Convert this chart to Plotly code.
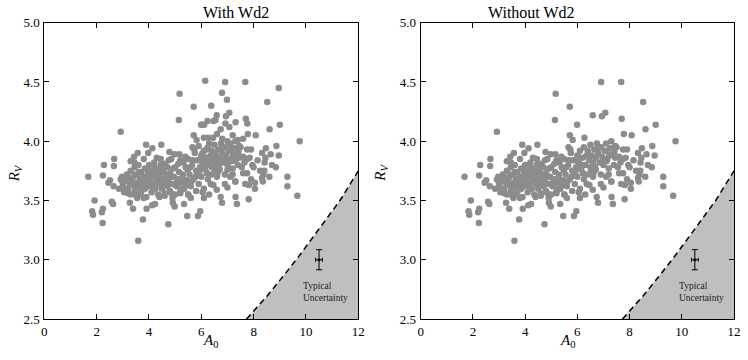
import plotly.graph_objects as go
from plotly.subplots import make_subplots

# points present in both panels
a0_common = [1.68, 1.92, 1.83, 1.86, 2.23, 2.20, 2.24, 2.28, 2.24, 2.58, 2.63, 2.45, 2.51, 2.65, 2.85,
             2.92, 2.97, 2.67, 2.66, 2.92, 3.59, 3.77, 3.91, 4.12, 4.23, 3.27, 3.39, 4.74, 4.91, 4.98,
             5.34, 5.46, 5.87, 5.96, 3.30, 3.43, 3.45, 3.57, 3.89, 4.13, 3.97, 4.47, 4.30, 4.45, 4.76,
             4.78, 4.98, 5.16, 5.39, 5.66, 5.73, 5.71, 5.82, 6.27, 5.17, 5.71, 5.14, 6.91, 7.68, 8.52,
             7.07, 6.59, 6.94, 5.99, 7.70, 8.61, 9.00, 7.78, 8.08, 9.76, 8.87, 9.29, 9.29, 9.67, 8.96,
             8.85, 8.65, 8.47, 8.32, 8.42, 8.38, 7.82, 7.68, 8.05, 7.81, 7.36, 7.31, 6.74, 6.79, 6.46,
             6.59, 8.05, 8.32, 8.41, 8.25, 8.00, 7.75, 7.60, 7.90, 7.75, 7.45, 7.50, 7.20, 7.60, 7.75,
             7.95, 8.60, 8.35, 7.90, 7.30, 7.00, 6.90, 6.30, 6.10, 6.05, 5.60, 5.50, 5.25, 5.20, 4.90,
             4.85, 4.60, 4.40, 3.80, 3.60, 3.45, 3.20, 3.10,
             3.00, 3.05, 3.10, 3.15, 3.20, 3.25, 3.30, 3.30, 3.35, 3.40, 3.45, 3.45, 3.50, 3.55, 3.55,
             3.60, 3.60, 3.65, 3.70, 3.70, 3.75, 3.80, 3.80, 3.85, 3.85, 3.90, 3.90, 3.95, 4.00, 4.00,
             4.05, 4.10, 4.10, 4.15, 4.20, 4.20, 4.25, 4.30, 4.30, 4.35, 4.40, 4.40, 4.45, 4.50, 4.50,
             4.55, 4.60, 4.60, 4.65, 4.70, 4.70, 4.75, 4.80, 4.80, 4.85, 4.90, 4.95, 5.00, 5.00, 5.05,
             5.10, 5.15, 5.20, 5.20, 5.25, 5.30, 5.35, 5.40, 5.45, 5.50, 5.50, 5.55, 5.60, 5.65, 5.70,
             5.75, 5.80, 5.80, 5.85, 5.90, 5.95, 6.00, 6.00, 6.05, 6.10, 6.10, 6.15, 6.20, 6.25, 6.25,
             6.30, 6.35, 6.40, 6.40, 6.45, 6.50, 6.50, 6.55, 6.60, 6.60, 6.65, 6.70, 6.70, 6.75, 6.80,
             6.85, 6.90, 6.90, 6.95, 7.00, 7.05, 7.10, 7.10, 7.15, 7.20, 7.25, 7.30, 7.30, 7.35, 7.40,
             7.45,
             3.12, 3.38, 3.52, 3.68, 3.74, 3.95, 4.02, 4.18, 4.28, 4.36, 4.52, 4.58, 4.68, 4.88, 5.08,
             5.28, 5.42, 5.58, 5.62, 5.78, 5.92, 6.18, 6.36, 6.52, 6.68, 6.82, 7.02, 7.22, 3.28, 3.62,
             3.98, 4.22, 4.62, 4.92, 5.32, 5.68, 6.02, 6.42, 2.98, 3.18, 3.48, 3.88, 4.08, 4.42, 4.72,
             5.12, 5.48, 5.88, 6.22, 6.62, 7.12, 7.42, 7.55, 7.65, 7.85, 8.15, 8.45, 8.70]
rv_common = [3.70, 3.50, 3.41, 3.38, 3.31, 3.40, 3.43, 3.80, 3.71, 3.49, 3.47, 3.65, 3.67, 3.62, 3.60,
             3.68, 3.70, 3.85, 3.79, 4.08, 3.16, 3.34, 3.43, 3.46, 3.47, 3.48, 3.43, 3.30, 3.48, 3.45,
             3.47, 3.37, 3.37, 3.41, 3.83, 3.87, 3.82, 3.90, 3.97, 3.94, 3.90, 3.97, 3.86, 3.85, 3.84,
             3.91, 3.89, 3.89, 3.87, 3.95, 3.93, 4.05, 4.01, 4.03, 4.40, 4.29, 4.18, 4.50, 4.50, 4.33,
             4.24, 4.22, 4.21, 4.14, 4.19, 4.10, 4.14, 4.06, 4.05, 4.00, 3.96, 3.70, 3.62, 3.54, 3.88,
             3.78, 3.89, 3.94, 3.90, 3.82, 3.72, 3.63, 3.64, 3.60, 3.51, 3.47, 3.53, 3.53, 3.48, 3.63,
             3.59, 3.65, 3.69, 3.75, 3.75, 3.78, 3.85, 3.87, 3.93, 3.93, 3.86, 3.95, 3.72, 3.73, 3.73,
             3.80, 3.70, 3.66, 3.68, 3.66, 3.61, 3.64, 3.55, 3.52, 3.57, 3.52, 3.55, 3.60, 3.56, 3.52,
             3.56, 3.54, 3.53, 3.52, 3.55, 3.55, 3.56, 3.60,
             3.62, 3.57, 3.66, 3.72, 3.60, 3.68, 3.75, 3.55, 3.63, 3.70, 3.78, 3.58, 3.65, 3.72, 3.52,
             3.62, 3.80, 3.68, 3.57, 3.74, 3.64, 3.70, 3.85, 3.60, 3.77, 3.66, 3.53, 3.72, 3.62, 3.80,
             3.68, 3.57, 3.75, 3.64, 3.70, 3.82, 3.60, 3.67, 3.76, 3.55, 3.64, 3.72, 3.80, 3.60, 3.68,
             3.74, 3.63, 3.56, 3.70, 3.78, 3.62, 3.66, 3.58, 3.73, 3.85, 3.64, 3.70, 3.55, 3.78, 3.62,
             3.68, 3.74, 3.58, 3.84, 3.65, 3.72, 3.60, 3.78, 3.67, 3.55, 3.85, 3.72, 3.62, 3.80, 3.68,
             3.90, 3.75, 3.58, 3.84, 3.64, 3.78, 3.88, 3.70, 3.82, 3.60, 3.92, 3.76, 3.86, 3.68, 3.95,
             3.80, 3.88, 3.72, 3.92, 3.84, 3.78, 3.97, 3.88, 3.70, 3.82, 3.93, 3.86, 3.76, 3.98, 3.90,
             3.82, 3.72, 3.95, 3.87, 3.80, 3.92, 3.70, 3.98, 3.85, 3.77, 3.94, 4.00, 3.66, 3.88, 3.80,
             3.96,
             3.69, 3.65, 3.61, 3.66, 3.59, 3.76, 3.71, 3.61, 3.71, 3.66, 3.76, 3.67, 3.66, 3.70, 3.66,
             3.69, 3.63, 3.78, 3.66, 3.70, 3.74, 3.80, 3.64, 3.74, 3.78, 3.95, 3.84, 3.89, 3.64, 3.74,
             3.67, 3.78, 3.81, 3.77, 3.82, 3.84, 3.83, 3.86, 3.66, 3.70, 3.72, 3.64, 3.73, 3.69, 3.72,
             3.81, 3.76, 3.72, 3.73, 3.73, 3.83, 3.91, 3.78, 3.82, 3.86, 3.84, 3.86, 3.80]

# points that disappear once Wd2 is removed
a0_wd2 = [6.15, 8.96, 6.79, 6.98, 6.38, 6.03, 6.11, 6.24, 6.47, 6.54, 6.92, 7.07, 7.31, 6.74, 7.76,
          6.10, 6.30, 6.45, 6.60, 6.80, 7.00, 7.20, 6.20, 6.50, 6.75, 6.95, 7.15, 6.35, 6.60, 6.85,
          7.40, 7.60, 5.90, 6.05, 6.15, 6.55, 6.70, 6.40, 7.00, 7.30]
rv_wd2 = [4.51, 4.45, 4.41, 4.35, 4.30, 4.14, 4.14, 4.17, 4.17, 4.18, 4.15, 4.12, 4.16, 4.10, 4.15,
          4.03, 3.98, 4.03, 4.06, 4.02, 4.00, 4.05, 3.93, 3.90, 3.92, 3.88, 3.95, 3.85, 3.86, 3.84,
          4.01, 4.02, 3.96, 3.90, 3.84, 3.80, 3.82, 3.78, 3.76, 3.83]

# excluded region boundary
edge_a0 = [7.73, 8.5, 9.2, 9.8, 10.5, 11.3, 12.0]
edge_rv = [2.5, 2.69, 2.88, 3.05, 3.26, 3.5, 3.75]

err_a0, err_rv = 10.5, 3.0
err_da0, err_drv = 0.13, 0.085

titles = ["With Wd2", "Without Wd2"]
font = "Liberation Serif, DejaVu Serif, serif"
grey = "#8c8c8c"

W, H = 748, 360
xdom = [[44.3 / W, 358.3 / W], [420.7 / W, 734 / W]]
ydom = [1 - 319 / H, 1 - 22.7 / H]

fig = make_subplots(rows=1, cols=2)

panels = [(a0_common + a0_wd2, rv_common + rv_wd2), (a0_common, rv_common)]
for i, (xs, ys) in enumerate(panels):
    col = i + 1
    fig.add_trace(go.Scatter(x=edge_a0 + [12.0], y=edge_rv + [2.5], fill="toself",
                             fillcolor="#bfbfbf", line=dict(width=0), mode="lines",
                             hoverinfo="skip"), row=1, col=col)
    fig.add_trace(go.Scatter(x=edge_a0, y=edge_rv, mode="lines",
                             line=dict(color="black", width=1.5, dash="6px,4px")), row=1, col=col)
    fig.add_trace(go.Scatter(x=xs, y=ys, mode="markers",
                             marker=dict(color=grey, size=6.5, line=dict(width=0))), row=1, col=col)
    fig.add_trace(go.Scatter(x=[err_a0], y=[err_rv], mode="markers",
                             marker=dict(color="black", size=3),
                             error_x=dict(type="constant", value=err_da0, color="black", thickness=1, width=2),
                             error_y=dict(type="constant", value=err_drv, color="black", thickness=1, width=3)),
                  row=1, col=col)
    sfx = "" if col == 1 else str(col)
    fig.add_annotation(x=10.75, y=2.73, xref="x" + sfx, yref="y" + sfx,
                       text="Typical<br>Uncertainty", showarrow=False,
                       font=dict(family=font, size=9.5, color="#222"), align="left")

    # panel title and axis titles
    x0, x1 = xdom[i]
    fig.add_annotation(x=(x0 + x1) / 2, y=ydom[1], xref="paper", yref="paper", yanchor="bottom",
                       text=titles[i], showarrow=False, yshift=0,
                       font=dict(family=font, size=16, color="black"))
    fig.add_annotation(x=(x0 + x1) / 2, y=1 - 352 / H, xref="paper", yref="paper",
                       text="<i>A</i><sub>0</sub>", showarrow=False,
                       font=dict(family=font, size=15, color="black"))
    fig.add_annotation(x=x0 - 40 / W, y=1 - 173 / H, xref="paper", yref="paper",
                       text="<i>R<sub>V</sub></i>", showarrow=False, textangle=-90,
                       font=dict(family=font, size=15, color="black"))

axis_style = dict(showline=True, linecolor="black", linewidth=1, mirror="allticks", ticks="inside",
                  ticklen=5, tickcolor="black", showgrid=False, zeroline=False, automargin=False,
                  tickfont=dict(family=font, size=13, color="black"))
fig.update_xaxes(range=[0, 12], tick0=0, dtick=2, **axis_style)
fig.update_yaxes(range=[2.5, 5.0], tick0=2.5, dtick=0.5, tickformat=".1f", ticklabelstandoff=1,
                 **axis_style)

fig.update_layout(
    width=W, height=H, showlegend=False,
    font=dict(family=font, color="black"),
    plot_bgcolor="white", paper_bgcolor="white",
    margin=dict(l=0, r=0, t=0, b=0),
    xaxis=dict(domain=xdom[0]),
    xaxis2=dict(domain=xdom[1]),
    yaxis=dict(domain=ydom),
    yaxis2=dict(domain=ydom),
)

# drop the default page margin so the figure sits at the window's corner
fig.write_html("out.html", config={"displayModeBar": False},
               post_script="document.body.style.margin='0';")
